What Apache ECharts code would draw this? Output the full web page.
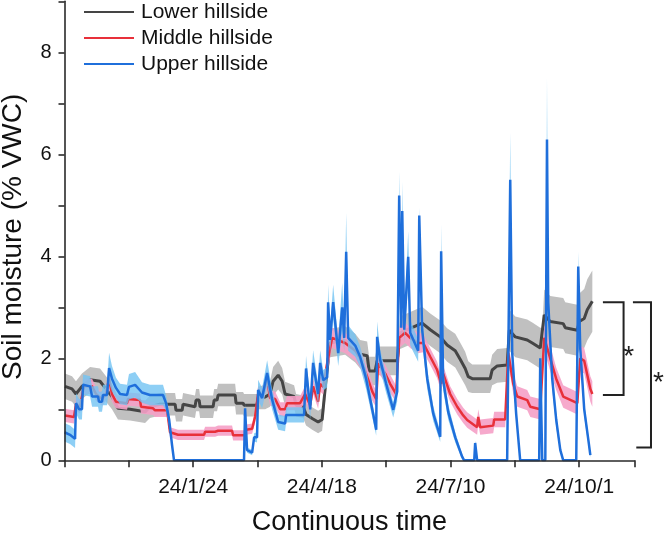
<!DOCTYPE html>
<html>
<head>
<meta charset="utf-8">
<script src="https://cdn.jsdelivr.net/npm/echarts@6/dist/echarts.min.js"></script>
<style>
html, body { margin: 0; padding: 0; background: #fff; }
#main { width: 664px; height: 535px; }
</style>
</head>
<body>
<div id="main"></div>
<script>
// rows: [day since start of record, mean % VWC, sd]
var lowerHillside = [
  [0.3,1.45,.25],[4.9,1.40,.25],[7.5,1.30,.25],[11.4,1.45,.25],[16.7,1.58,.25],[23.2,1.55,.25],[27.1,1.40,.25],[31.0,1.25,.25],
  [34.9,1.02,.22],[42.8,1.00,.22],[52.6,0.95,.22],[55.8,1.05,.22],[62.4,1.10,.22],[72.2,1.10,.22],[72.8,0.98,.22],[76.8,0.98,.22],
  [77.4,1.10,.22],[85.2,1.05,.22],[85.9,1.18,.22],[87.9,1.18,.22],[88.5,1.05,.22],[97.0,1.05,.22],[97.7,1.18,.22],[99.6,1.18,.22],
  [100.3,1.28,.22],[111.4,1.28,.22],[112.0,1.12,.22],[116.6,1.12,.22],[117.2,1.08,.22],[125.7,1.08,.22],[126.4,1.22,.22],
  [131.0,1.24,.24],[134.2,1.30,.25],[136.2,1.55,.28],[139.5,1.67,.28],[142.1,1.55,.26],[144.0,1.30,.24],[149.9,1.25,.22],
  [151.2,1.08,.22],[155.8,1.05,.22],[157.7,0.90,.22],[161.7,0.82,.22],[165.6,0.75,.22],[168.2,0.80,.22],[170.8,1.60,.26],
  [173.4,2.30,.28],[183.2,2.35,.28],[189.8,2.20,.28],[193.0,2.08,.28],[197.6,2.05,.28],[198.9,1.75,.28],[202.8,1.75,.28],
  [204.1,1.95,.28],[217.2,1.95,.28],[219.1,2.50,.32],[233.5,2.69,.32],[238.8,2.56,.32],[245.3,2.42,.32],[249.8,2.26,.33],
  [255.1,2.15,.33],[258.3,1.98,.33],[261.6,1.80,.33],[263.6,1.64,.30],[266.2,1.60,.28],[277.9,1.60,.28],[279.2,1.77,.30],
  [282.5,1.85,.33],[289.0,1.87,.33],[290.4,2.55,.40],[294.3,2.42,.40],[302.1,2.36,.40],[305.4,2.30,.40],[310.6,2.20,.40],
  [311.9,2.20,.40],[313.2,2.85,.50],[317.1,2.72,.50],[325.6,2.68,.50],[326.9,2.60,.50],[334.8,2.55,.50],[336.1,2.72,.55],
  [339.3,2.78,.58],[341.3,2.95,.60],[344.6,3.12,.60]
];
var middleHillside = [
  [0.3,0.88,.13],[6.2,0.85,.13],[7.5,1.10,.13],[10.1,1.05,.13],[12.7,1.45,.15],[18.0,1.45,.15],[20.6,1.30,.13],[24.5,1.20,.13],
  [27.1,1.30,.13],[29.1,1.60,.2],[31.0,1.30,.15],[33.6,1.15,.13],[40.8,1.12,.13],[41.5,1.20,.13],[49.3,1.18,.13],[50.0,1.05,.13],
  [57.8,1.02,.13],[59.1,0.98,.13],[67.0,0.98,.13],[68.9,0.55,.1],[74.1,0.50,.1],[91.1,0.50,.1],[91.8,0.56,.1],[98.3,0.56,.1],
  [100.3,0.58,.1],[109.4,0.58,.1],[110.1,0.49,.1],[117.9,0.49,.1],[118.6,0.60,.1],[122.5,0.62,.1],[124.4,0.85,.12],
  [126.4,1.30,.15],[129.0,1.25,.15],[132.3,1.60,.18],[134.2,1.22,.15],[137.5,1.20,.15],[140.8,1.00,.14],[144.0,1.00,.14],
  [145.3,1.12,.14],[153.8,1.12,.14],[157.1,1.30,.15],[160.4,1.08,.14],[162.3,1.45,.15],[165.6,1.15,.14],[166.9,1.50,.15],
  [168.9,1.44,.15],[172.1,2.00,.18],[174.7,2.40,.2],[183.2,2.30,.2],[189.8,2.15,.2],[193.0,2.00,.18],[196.9,1.70,.18],
  [200.9,1.35,.18],[203.5,1.20,.16],[204.8,1.90,.18],[209.4,1.70,.18],[212.6,1.50,.18],[216.5,1.30,.16],[218.5,2.40,.2],
  [222.4,2.50,.2],[225.7,2.40,.2],[230.9,2.30,.2],[234.2,2.30,.18],[238.8,2.03,.16],[243.3,1.77,.16],[245.9,1.50,.15],
  [247.2,1.70,.16],[251.8,1.30,.15],[256.4,1.05,.15],[260.3,0.88,.15],[262.9,0.79,.15],[269.4,0.65,.15],[270.1,0.85,.15],
  [271.4,0.65,.15],[279.9,0.68,.15],[280.5,0.80,.15],[287.7,0.80,.15],[289.7,2.10,.2],[293.0,1.50,.2],[295.6,1.25,.2],
  [302.1,1.18,.2],[304.1,1.05,.2],[310.6,1.00,.2],[313.2,2.40,.25],[317.1,2.00,.25],[321.0,1.60,.22],[325.6,1.25,.22],
  [334.8,1.12,.22],[336.7,2.00,.25],[339.3,1.95,.25],[343.3,1.40,.25],[344.6,1.30,.25]
];
var upperHillside = [
  [0,0.55,.18],[3.6,0.50,.18],[6.9,0.42,.18],[7.5,1.12,.2],[9.5,1.00,.2],[11.4,1.00,.2],[12.1,1.48,.2],[16.7,1.45,.2],
  [18.0,1.25,.2],[21.9,1.25,.2],[22.5,1.15,.2],[24.5,1.15,.2],[25.1,1.28,.2],[27.8,1.28,.2],[29.1,1.81,.3],[31.0,1.60,.25],
  [33.6,1.42,.2],[36.3,1.30,.2],[40.8,1.28,.2],[42.1,1.44,.25],[46.1,1.48,.25],[50.6,1.33,.2],[55.8,1.28,.2],[64.3,1.28,.2],
  [66.3,1.12,.15],[68.3,0.80,.12],[70.2,0.30,.05],[71.5,0,.02],[117.2,0,.02],[117.9,1.02,.1],[119.2,0.20,.05],[122.5,0.15,.05],
  [123.8,0.45,.08],[125.7,0.45,.1],[126.4,1.38,.2],[129.0,1.22,.2],[132.3,1.71,.25],[135.5,1.20,.2],[139.5,0.75,.15],
  [144.0,0.72,.15],[144.7,0.89,.15],[156.4,0.89,.15],[157.7,1.80,.25],[160.4,1.00,.2],[162.3,1.91,.25],[165.6,1.30,.2],
  [166.9,1.91,.25],[168.9,1.57,.2],[171.5,1.63,.2],[172.1,3.10,.34],[173.4,2.36,.25],[175.4,3.10,.34],[178.7,2.10,.25],
  [181.3,3.00,.48],[182.6,2.40,.25],[183.9,4.09,.76],[185.2,2.40,.25],[189.8,2.25,.22],[193.0,2.03,.2],[196.9,1.60,.2],
  [200.9,1.00,.15],[203.5,0.60,.12],[204.1,2.42,.3],[206.1,1.97,.2],[210.0,1.50,.18],[214.6,0.99,.15],[217.2,1.35,.2],
  [218.5,5.19,.47],[219.8,2.60,.25],[220.5,4.89,.57],[221.8,2.56,.25],[224.4,3.99,.5],[225.7,2.50,.25],[230.9,2.15,.22],
  [231.6,4.80,.15],[233.5,2.56,.25],[236.8,1.60,.2],[240.7,0.92,.15],[245.3,0.46,.1],[245.9,4.10,.53],[247.2,1.57,.2],
  [250.5,0.95,.15],[255.1,0.45,.1],[259.6,0.07,.05],[260.9,0,.02],[267.5,0,.02],[268.1,0.34,.05],[269.4,0,.02],[289.0,0,.02],
  [291.0,5.50,.92],[292.3,2.10,.2],[294.9,0.90,.15],[297.5,0,.02],[309.9,0,.02],[310.6,2.00,.2],[311.9,0,.02],[313.9,0,.02],
  [315.0,6.29,1.2],[315.8,3.10,.3],[318.4,1.60,.2],[321.0,0.80,.15],[323.7,0.20,.05],[325.6,0,.02],[334.1,0,.02],
  [335.4,3.80,.29],[336.7,2.20,.2],[339.3,1.00,.15],[342.0,0.40,.1],[343.3,0.10,.05]
];
// x tick labels every 84 days
var xTickLabels = ['', '24/1/24', '24/4/18', '24/7/10', '24/10/1'];
// significance brackets (x in days, y in % VWC)
var sigBrackets = [
  { left: 351.5, right: 365.0, leftEnd: 351.5, top: 3.1, bottom: 1.28, starX: 368.4, starY: 2.16 },
  { left: 371.1, right: 382.9, leftEnd: 373.3, top: 3.1, bottom: 0.25, starX: 387.7, starY: 1.64 }
];

var FONT = 'Liberation Sans, Arial, sans-serif';
var chart = echarts.init(document.getElementById('main'), null, { renderer: 'canvas' });

function bandSeries(name, rows, color, opacity, z) {
  return {
    type: 'custom',
    name: name,
    z: z,
    silent: true,
    animation: false,
    data: rows.map(function (r) { return [r[0], Math.max(0, r[1] - r[2]), r[1] + r[2]]; }),
    encode: { x: 0, y: [1, 2] },
    renderItem: function (params, api) {
      if (params.dataIndex !== 0) return null;
      var up = [], low = [];
      rows.forEach(function (r) {
        up.push(api.coord([r[0], r[1] + r[2]]));
        low.unshift(api.coord([r[0], Math.max(0, r[1] - r[2])]));
      });
      return {
        type: 'polygon',
        shape: { points: up.concat(low) },
        style: { fill: color, opacity: opacity }
      };
    }
  };
}

function lineSeries(name, rows, color, width, z) {
  return {
    type: 'line',
    name: name,
    z: z,
    animation: false,
    symbol: 'none',
    data: rows.map(function (r) { return [r[0], r[1]]; }),
    lineStyle: { color: color, width: width },
    itemStyle: { color: color }
  };
}

var axisColor = '#2a2a2a';

chart.setOption({
  backgroundColor: '#fff',
  animation: false,
  grid: { left: 64.5, right: 29.7, top: 1.3, bottom: 74.7, containLabel: false, outerBoundsMode: 'none' },
  legend: {
    data: ['Lower hillside', 'Middle hillside', 'Upper hillside'],
    orient: 'vertical',
    left: 84,
    top: 1.5,
    padding: 0,
    icon: 'rect',
    itemWidth: 50,
    itemHeight: 2,
    itemGap: 5,
    textStyle: { fontSize: 21, fontFamily: FONT, color: '#111', lineHeight: 21, padding: [0, 0, 0, 2] }
  },
  xAxis: {
    type: 'value',
    min: 0,
    max: 372,
    interval: 42,
    z: 10,
    name: 'Continuous time',
    nameLocation: 'middle',
    nameGap: 49,
    nameTextStyle: { fontSize: 27, fontFamily: FONT, color: '#111' },
    axisLine: { onZero: false, lineStyle: { color: axisColor, width: 1.6 } },
    axisTick: { length: 7, lineStyle: { color: axisColor, width: 1.6 } },
    axisLabel: {
      fontSize: 21, fontFamily: FONT, color: '#111', margin: 16,
      formatter: function (v) {
        var i = v / 84;
        return (Math.abs(i - Math.round(i)) < 1e-6 && xTickLabels[Math.round(i)]) ? xTickLabels[Math.round(i)] : '';
      }
    },
    splitLine: { show: false }
  },
  yAxis: {
    type: 'value',
    min: 0,
    max: 9,
    interval: 1,
    z: 10,
    name: 'Soil moisture (% VWC)',
    nameLocation: 'middle',
    nameGap: 37,
    nameTextStyle: { fontSize: 28, fontFamily: FONT, color: '#111', padding: [0, 12, 0, 0] },
    axisLine: { show: true, lineStyle: { color: axisColor, width: 1.6 } },
    axisTick: { show: true, length: 6, lineStyle: { color: axisColor, width: 1.6 } },
    axisLabel: {
      fontSize: 20, fontFamily: FONT, color: '#111', margin: 13,
      formatter: function (v) { return (v % 2 === 0 && v <= 8) ? String(v) : ''; }
    },
    splitLine: { show: false }
  },
  series: [
    bandSeries('lowerBand', lowerHillside, '#c0c0c0', 1, 1),
    lineSeries('Lower hillside', lowerHillside, '#454545', 3, 2),
    bandSeries('middleBand', middleHillside, '#f5a0c6', 0.9, 3),
    lineSeries('Middle hillside', middleHillside, '#e8303a', 2.5, 4),
    bandSeries('upperBand', upperHillside, '#72c3f2', 0.8, 5),
    lineSeries('Upper hillside', upperHillside, '#1f6fdb', 2.5, 6)
  ]
});

// significance brackets and stars
var graphics = [];
sigBrackets.forEach(function (b) {
  var p1 = chart.convertToPixel({ gridIndex: 0 }, [b.left, b.top]);
  var p2 = chart.convertToPixel({ gridIndex: 0 }, [b.right, b.top]);
  var p3 = chart.convertToPixel({ gridIndex: 0 }, [b.right, b.bottom]);
  var p4 = chart.convertToPixel({ gridIndex: 0 }, [b.leftEnd, b.bottom]);
  var ps = chart.convertToPixel({ gridIndex: 0 }, [b.starX, b.starY]);
  graphics.push({
    type: 'polyline',
    shape: { points: [p1, p2, p3, p4] },
    style: { stroke: '#222', lineWidth: 2, fill: null },
    z: 20
  });
  graphics.push({
    type: 'text',
    x: ps[0],
    y: ps[1] + 7,
    style: { text: '*', fontSize: 28, fontFamily: FONT, fill: '#222', align: 'center', verticalAlign: 'middle' },
    z: 20
  });
});
chart.setOption({ graphic: graphics });
</script>
</body>
</html>
